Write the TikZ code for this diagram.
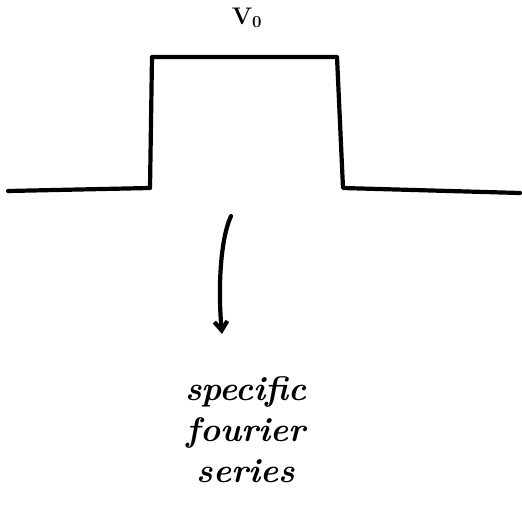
\documentclass[tikz,border=0pt]{standalone}
\usepackage{amsfonts, amssymb, amsmath}
\usepackage{tikz}
\usetikzlibrary{arrows.meta}

\begin{document}
\begin{tikzpicture}[x=1pt, y=-1pt, line width=4.2pt, line cap=round, line join=round]
    \useasboundingbox (0,0) rectangle (522,511);
    % the square pulse
    \coordinate (baseL) at (8,191);
    \coordinate (stepL) at (150,188);
    \coordinate (topL) at (152,57);
    \coordinate (topR) at (337,57);
    \coordinate (stepR) at (343,188);
    \coordinate (baseR) at (520,193);
    \draw (baseL) -- (stepL) -- (topL) -- (topR) -- (stepR) -- (baseR);
    \node[font=\fontsize{24}{26}\selectfont\bfseries] (height) at (247,18) {V\textsubscript{0}};
    % what it turns into
    \node[align=center, font=\fontsize{34}{41}\selectfont\bfseries\itshape] (series) at (246,430) {
        specific\\
        fourier\\
        series
    };
    \coordinate (arrowstart) at (231,216);
    \coordinate (arrowend) at (222,334);
    \draw[-{Straight Barb[length=9pt, width=13pt]}] (arrowstart) .. controls (220,240) and (218,290) .. (arrowend);
\end{tikzpicture}
\end{document}
